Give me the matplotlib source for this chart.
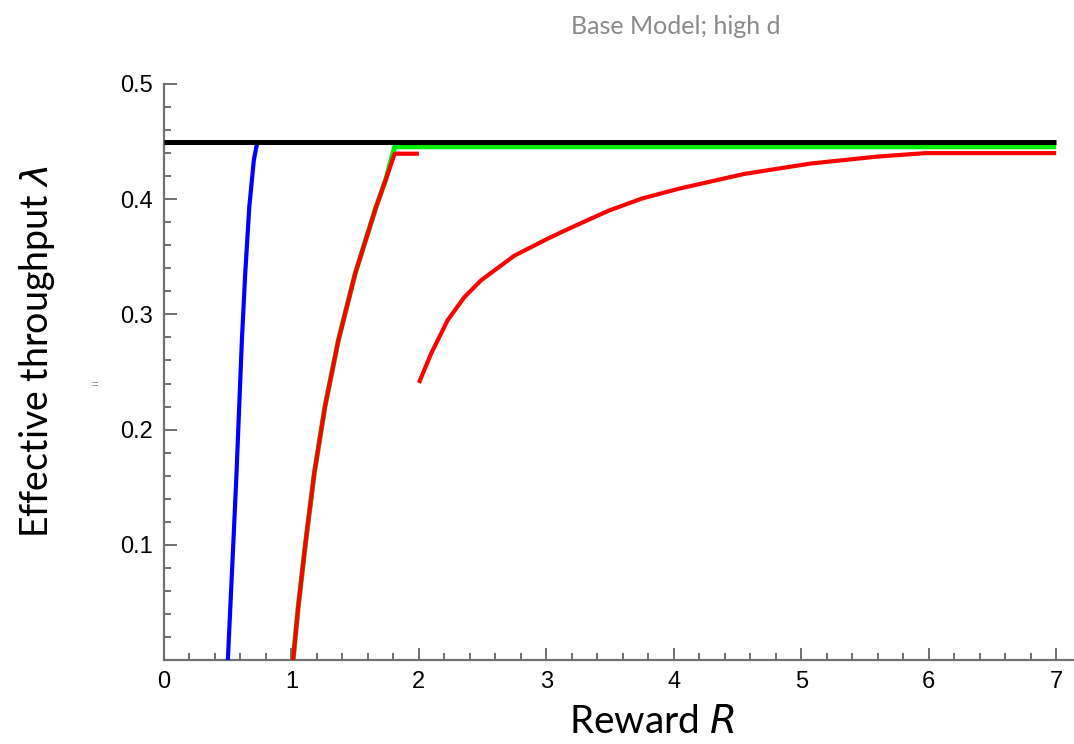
import matplotlib.pyplot as plt
from matplotlib.ticker import MultipleLocator

# values
blue_x = [0.501, 0.545, 0.569, 0.590, 0.611, 0.637, 0.669, 0.705, 0.733]
blue_y = [0.0, 0.104, 0.162, 0.220, 0.2775, 0.335, 0.393, 0.434, 0.450]

rise_x = [1.013, 1.053, 1.113, 1.179, 1.263, 1.368, 1.500, 1.663, 1.740, 1.810]
rise_y = [0.0, 0.046, 0.104, 0.162, 0.220, 0.2775, 0.3354, 0.393, 0.417, 0.4395]

green_x = rise_x + [7.0]
green_y = rise_y[:-1] + [0.4455, 0.4455]

red1_x = rise_x + [2.0]
red1_y = rise_y + [0.4395]

red2_x = [2.0, 2.096, 2.226, 2.357, 2.488, 2.749, 3.010, 3.140, 3.228, 3.488,
          3.748, 4.035, 4.556, 5.077, 5.598, 5.975, 6.0, 7.0]
red2_y = [0.2405, 0.266, 0.295, 0.315, 0.3296, 0.351, 0.3657, 0.3725, 0.377, 0.390,
          0.4005, 0.409, 0.422, 0.431, 0.437, 0.440, 0.440, 0.440]

black_x = [0.0, 7.0]
black_y = [0.45, 0.45]

x_ticks = [0, 1, 2, 3, 4, 5, 6, 7]
y_ticks = [0.1, 0.2, 0.3, 0.4, 0.5]

plt.rcParams['font.family'] = ['Liberation Sans', 'DejaVu Sans']

fig = plt.figure(figsize=(10.74, 7.44), dpi=100)
ax = fig.add_axes([0.1527, 0.1129, 0.8473, 0.7742])

ax.plot(green_x, green_y, color='#00ee00', lw=3.6, solid_capstyle='butt', zorder=2)
ax.plot(red1_x, red1_y, color='#ff0000', lw=3.0, solid_capstyle='butt', zorder=3)
ax.plot(red2_x, red2_y, color='#ff0000', lw=3.0, solid_capstyle='butt', zorder=3)
ax.plot(blue_x, blue_y, color='#0000ff', lw=3.0, solid_capstyle='butt', zorder=4)
ax.plot(black_x, black_y, color='black', lw=3.6, solid_capstyle='butt', zorder=5)

ax.set_xlim(0, 7.14)
ax.set_ylim(0, 0.5)
ax.set_xticks(x_ticks)
ax.set_yticks(y_ticks)
ax.set_yticklabels([f'{v:.1f}' for v in y_ticks])
ax.xaxis.set_minor_locator(MultipleLocator(0.2))
ax.yaxis.set_minor_locator(MultipleLocator(0.02))

for side in ['top', 'right']:
    ax.spines[side].set_visible(False)
for side in ['left', 'bottom']:
    ax.spines[side].set_color('#707070')
    ax.spines[side].set_linewidth(1.6)

ax.tick_params(which='major', direction='in', length=9, width=1.4,
               color='#707070', labelsize=17, pad=8)
ax.tick_params(which='minor', direction='in', length=5, width=1.4,
               color='#707070')

lab_font = ['Lato', 'DejaVu Sans']
fig.text(652 / 1074, 1 - 722 / 744, 'Reward $R$', ha='center', va='center',
         fontsize=28, family=lab_font)
fig.text(37 / 1074, 1 - 352 / 744, 'Effective throughput $\\lambda$', ha='center',
         va='center', rotation=90, fontsize=27, family=lab_font)
fig.text(0.629, 0.965, 'Base Model; high d', ha='center', va='center',
         fontsize=18, color='#8a8a8a', family=lab_font)
fig.text(0.088, 0.482, '=', ha='center', va='center', fontsize=8,
         color='#4a7ba7')

fig.savefig('out.png', dpi=100)
